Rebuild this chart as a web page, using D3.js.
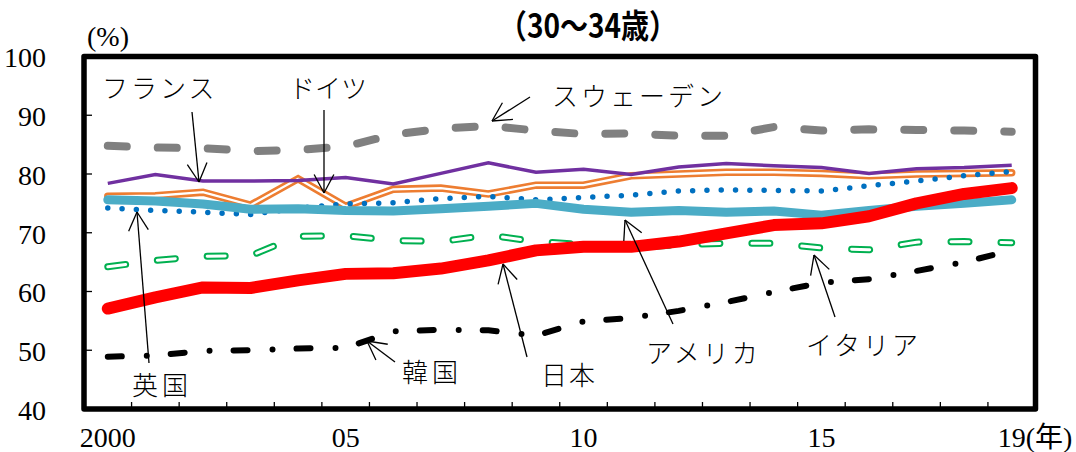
<!DOCTYPE html>
<html>
<head>
<meta charset="utf-8">
<script src="https://cdn.jsdelivr.net/npm/d3@7"></script>
<style>
html,body{margin:0;padding:0;background:#fff;}
svg{display:block;}
.serif{font-family:"Liberation Serif","DejaVu Serif",serif;}
</style>
</head>
<body>
<div id="chart"></div>
<script>
const years = [2000,2001,2002,2003,2004,2005,2006,2007,2008,2009,2010,2011,2012,2013,2014,2015,2016,2017,2018,2019];
const japan   = [57.1,59.0,60.7,60.6,61.9,63.0,63.1,63.9,65.3,67.0,67.6,67.6,68.5,69.9,71.3,71.6,72.8,75.0,76.6,77.6];
const usa     = [75.6,75.4,74.9,74.0,74.1,73.8,73.7,74.1,74.5,75.0,74.0,73.5,73.8,73.5,73.7,73.0,73.8,74.5,75.0,75.6];
const uk      = [74.2,73.8,73.5,73.1,74.2,74.9,75.1,75.8,76.2,75.6,76.0,76.4,77.1,77.3,77.2,77.1,78.0,78.8,79.7,80.4];
const germany = [76.2,76.3,76.9,74.7,79.2,74.5,77.4,77.6,76.6,78.1,78.1,79.7,80.0,80.3,80.3,80.1,79.7,80.0,80.1,80.2];
const france  = [78.4,79.9,78.8,78.8,78.9,79.4,78.3,80.1,81.9,80.3,80.8,79.9,81.2,81.8,81.4,81.1,80.1,80.9,81.1,81.5];
const sweden  = [84.8,84.5,84.4,83.9,84.1,84.7,86.7,87.7,88.2,87.4,86.8,86.9,86.5,86.5,88.0,87.4,87.6,87.5,87.4,87.2];
const italy   = [64.2,65.3,66.0,66.1,69.4,69.5,68.7,68.5,69.6,68.5,68.0,67.4,68.0,68.2,68.2,67.4,67.1,68.4,68.5,68.3];
const korea   = [48.9,49.1,49.9,50.0,50.3,50.4,53.2,53.5,53.4,52.5,54.9,55.5,56.7,58.2,59.9,61.5,62.1,63.5,65.0,67.0];

const yTicks = [40,50,60,70,80,90,100];
const xLabelYears = [2000,2005,2010,2015,2019];
const xLabelTexts = ["2000","05","10","15","19"];
const titleText = "（30～34歳）";
const yUnit = "(%)";
const xUnit = "(年)";

const W = 1076, H = 452;
const svg = d3.select("#chart").append("svg").attr("width", W).attr("height", H);

const x = d3.scaleBand().domain(years).range([84, 1035.5]).padding(0);
const y = d3.scaleLinear().domain([40, 100]).range([409, 56.5]);
const cx = yr => x(yr) + x.bandwidth() / 2;

// title
svg.append("text")
  .attr("transform", "translate(588,38) scale(0.85,1)")
  .attr("text-anchor", "middle")
  .style("font-family", "'Noto Sans CJK JP', sans-serif")
  .attr("font-weight", 700)
  .attr("font-size", 33)
  .text(titleText);

// y unit
svg.append("text").attr("class", "serif").attr("x", 87).attr("y", 46)
  .attr("font-size", 28).text(yUnit);

// y axis labels
const yAxis = d3.axisLeft(y).tickValues(yTicks).tickSize(0).tickPadding(0).tickFormat(d3.format("d"));
const yg = svg.append("g").attr("transform", "translate(46,0)").call(yAxis);
yg.attr("font-family", null).attr("font-size", null);
yg.select(".domain").remove();
yg.selectAll("text").attr("class", "serif").attr("font-size", 28)
  .attr("fill", "#000").attr("dy", "0.37em");

// y inner ticks
svg.append("g").selectAll("line").data(yTicks.filter(v => v > 40 && v < 100)).join("line")
  .attr("x1", 84).attr("x2", 92).attr("y1", d => y(d)).attr("y2", d => y(d))
  .attr("stroke", "#000").attr("stroke-width", 1.3);

// x boundary ticks
svg.append("g").selectAll("line").data(years.slice(1)).join("line")
  .attr("x1", d => x(d)).attr("x2", d => x(d)).attr("y1", 409).attr("y2", 402)
  .attr("stroke", "#000").attr("stroke-width", 1.3);

// x labels
svg.append("g").selectAll("text").data(xLabelYears).join("text")
  .attr("class", "serif")
  .attr("x", d => cx(d)).attr("y", 447).attr("text-anchor", "middle")
  .attr("font-size", 28)
  .text((d, i) => xLabelTexts[i]);
svg.append("text").attr("x", cx(2019) + 14).attr("y", 447)
  .style("font-family", "'Liberation Serif', 'DejaVu Serif', 'Noto Sans CJK JP', serif").attr("font-size", 28)
  .text(xUnit);

// frame
svg.append("rect").attr("x", 84).attr("y", 56.5).attr("width", 1035.5 - 84).attr("height", 409 - 56.5)
  .attr("fill", "none").attr("stroke", "#000").attr("stroke-width", 5.5).attr("stroke-linejoin", "round");

const line = d3.line().x((d, i) => cx(years[i])).y(d => y(d));
function draw(data, color, width, dash, cap, join) {
  svg.append("path").attr("d", line(data)).attr("fill", "none")
    .attr("stroke", color).attr("stroke-width", width)
    .attr("stroke-dasharray", dash || null)
    .attr("stroke-linecap", cap || "round")
    .attr("stroke-linejoin", join || "round");
}

draw(sweden, "#808080", 8, "19 31", "round");
draw(italy, "#00B050", 7, "18 32", "round");
draw(italy, "#FFFFFF", 3, "18 32", "round");
draw(korea, "#000000", 6, "14 25 0 24", "round");
draw(germany, "#ED7D31", 7.5, null, "round", "miter");
draw(germany, "#FFFFFF", 2.3, null, "round", "miter");
draw(france, "#7030A0", 3.5, null, "butt", "miter");
draw(uk, "#0070C0", 5.5, "0 14.3", "round");
draw(usa, "#4BACC6", 9, null, "round");
draw(japan, "#FF0000", 12, null, "round");

// annotations
const notes = [
  {t:"フランス", tx:102, ty:98, ls:3, a:[192,112,199,182]},
  {t:"ドイツ", tx:289, ty:98, ls:0, a:[324,110,324,193]},
  {t:"スウェーデン", tx:552, ty:106, ls:3, a:[530,97,492,121]},
  {t:"英国", tx:132, ty:395, ls:4, a:[149,363,137,212]},
  {t:"韓国", tx:402, ty:382, ls:4, a:[395,362,367,341]},
  {t:"日本", tx:541, ty:385, ls:2, a:[527,357,503,264]},
  {t:"アメリカ", tx:646, ty:363, ls:3, a:[673,324,625,220]},
  {t:"イタリア", tx:806, ty:355, ls:3, a:[835,317,814,255]}
];
const ag = svg.append("g").attr("stroke", "#000").attr("stroke-width", 1.3).attr("fill", "none");
notes.forEach(n => {
  const [x1, y1, x2, y2] = n.a;
  ag.append("line").attr("x1", x1).attr("y1", y1).attr("x2", x2).attr("y2", y2);
  const ang = Math.atan2(y1 - y2, x1 - x2);
  const L = 21, spread = 28 * Math.PI / 180;
  [ang - spread, ang + spread].forEach(a => {
    ag.append("line").attr("x1", x2).attr("y1", y2)
      .attr("x2", x2 + L * Math.cos(a)).attr("y2", y2 + L * Math.sin(a));
  });
  svg.append("text").attr("x", n.tx).attr("y", n.ty)
    .style("font-family", "'Noto Sans CJK JP', sans-serif").attr("font-weight", 300)
    .attr("font-size", 26).attr("letter-spacing", n.ls).text(n.t);
});
</script>
</body>
</html>
